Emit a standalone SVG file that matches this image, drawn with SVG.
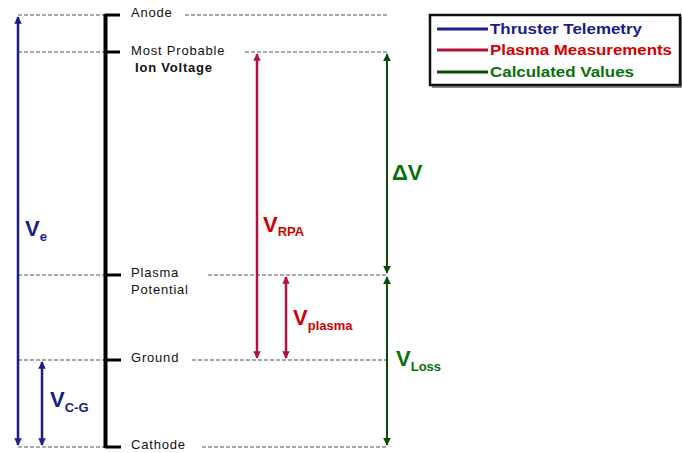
<svg xmlns="http://www.w3.org/2000/svg" width="682" height="453" viewBox="0 0 682 453">
<defs>
<style>
.dash{stroke:#aaaaaa;stroke-width:2;stroke-dasharray:4 2;fill:none}
.lbl{font-family:"Liberation Sans",Arial,sans-serif;font-size:13px;letter-spacing:0.8px;fill:#111}
.blue{stroke:#1c1c8a;stroke-width:2.5;fill:none}
.red{stroke:#b3123c;stroke-width:2.5;fill:none}
.green{stroke:#0b4a0b;stroke-width:2;fill:none}
.big{font-family:"Liberation Sans",Arial,sans-serif;font-weight:bold;font-size:22px}
.sub{font-family:"Liberation Sans",Arial,sans-serif;font-weight:bold;font-size:13px}
.leg{font-family:"Liberation Sans",Arial,sans-serif;font-weight:bold;font-size:14.5px}
</style>
<marker id="ab" viewBox="0 0 10 10" refX="9" refY="5" markerWidth="3" markerHeight="3.5" orient="auto-start-reverse" markerUnits="strokeWidth"><path d="M0,0 L10,5 L0,10 z" fill="#1c1c8a"/></marker>
<marker id="ar" viewBox="0 0 10 10" refX="9" refY="5" markerWidth="3" markerHeight="3.5" orient="auto-start-reverse" markerUnits="strokeWidth"><path d="M0,0 L10,5 L0,10 z" fill="#b3123c"/></marker>
<marker id="ag" viewBox="0 0 10 10" refX="9" refY="5" markerWidth="4" markerHeight="4.5" orient="auto-start-reverse" markerUnits="strokeWidth"><path d="M0,0 L10,5 L0,10 z" fill="#0b4a0b"/></marker>
</defs>
<rect width="682" height="453" fill="#fff"/>
<g id="levels">
<line class="dash" x1="18" y1="15" x2="105" y2="15"/><line class="dash" x1="185" y1="15" x2="388" y2="15"/>
<line class="dash" x1="18" y1="52" x2="105" y2="52"/><line class="dash" x1="245" y1="52" x2="388" y2="52"/>
<line class="dash" x1="18" y1="275" x2="105" y2="275"/><line class="dash" x1="208" y1="275" x2="388" y2="275"/>
<line class="dash" x1="18" y1="360" x2="105" y2="360"/><line class="dash" x1="192" y1="360" x2="388" y2="360"/>
<line class="dash" x1="18" y1="447" x2="105" y2="447"/><line class="dash" x1="202" y1="447" x2="388" y2="447"/>
</g>
<g id="axis">
<line x1="105.5" y1="14" x2="105.5" y2="448" stroke="#000" stroke-width="4"/>
<g stroke="#000" stroke-width="3">
<line x1="105" y1="15" x2="120" y2="15"/><line x1="105" y1="52" x2="120" y2="52"/><line x1="105" y1="275" x2="121" y2="275"/><line x1="105" y1="360" x2="121" y2="360"/><line x1="105" y1="447" x2="121" y2="447"/>
</g>
</g>
<g id="anode"><text class="lbl" x="131" y="17">Anode</text></g>
<g id="mpiv"><text class="lbl" x="131" y="55">Most Probable</text><text class="lbl" x="135" y="72" font-weight="bold">Ion Voltage</text></g>
<g id="plasma"><text class="lbl" x="131" y="277">Plasma</text><text class="lbl" x="131" y="294">Potential</text></g>
<g id="ground"><text class="lbl" x="131" y="362">Ground</text></g>
<g id="cathode"><text class="lbl" x="131" y="449">Cathode</text></g>
<g id="connectors">
<line class="blue" x1="18" y1="17" x2="18" y2="445" marker-start="url(#ab)" marker-end="url(#ab)"/>
<line class="blue" x1="42" y1="362" x2="42" y2="445" marker-start="url(#ab)" marker-end="url(#ab)"/>
<line class="red" x1="257" y1="54" x2="257" y2="358" marker-start="url(#ar)" marker-end="url(#ar)"/>
<line class="red" x1="286" y1="277" x2="286" y2="358" marker-start="url(#ar)" marker-end="url(#ar)"/>
<line class="green" x1="387" y1="54" x2="387" y2="273" marker-start="url(#ag)" marker-end="url(#ag)"/>
<line class="green" x1="387" y1="277" x2="387" y2="445" marker-start="url(#ag)" marker-end="url(#ag)"/>
</g>
<g id="labels">
<text x="25" y="236" class="big" fill="#1c1c8a">V<tspan class="sub" dy="5">e</tspan></text>
<text x="50" y="407" class="big" fill="#1c1c8a">V<tspan class="sub" dy="5">C-G</tspan></text>
<text x="263" y="232" class="big" fill="#d40000">V<tspan class="sub" dy="4">RPA</tspan></text>
<text x="293" y="325" class="big" fill="#d40000">V<tspan class="sub" dy="5">plasma</tspan></text>
<text x="392" y="180" class="big" fill="#0a700a">ΔV</text>
<text x="396" y="366" class="big" fill="#0a700a">V<tspan class="sub" dy="5">Loss</tspan></text>
</g>
<g id="legend">
<rect x="432" y="17" width="250" height="71" fill="#888"/>
<rect x="430" y="15" width="250" height="70" fill="#fff" stroke="#111" stroke-width="2.5"/>
<line x1="437" y1="29" x2="488" y2="29" stroke="#1c1c8a" stroke-width="3"/>
<line x1="437" y1="50" x2="488" y2="50" stroke="#b3123c" stroke-width="3"/>
<line x1="437" y1="72" x2="488" y2="72" stroke="#0b4a0b" stroke-width="3"/>
<text class="leg" x="490" y="34" fill="#1c1c8a" textLength="152" lengthAdjust="spacingAndGlyphs">Thruster Telemetry</text>
<text class="leg" x="490" y="55" fill="#d40000" textLength="182" lengthAdjust="spacingAndGlyphs">Plasma Measurements</text>
<text class="leg" x="490" y="77" fill="#0a700a" textLength="144" lengthAdjust="spacingAndGlyphs">Calculated Values</text>
</g>
</svg>
